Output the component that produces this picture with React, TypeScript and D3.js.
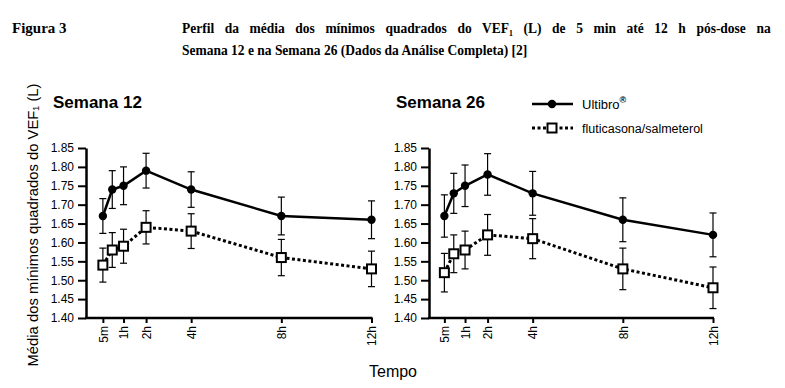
import React, { useEffect, useRef } from 'react';
import * as d3 from 'd3';

// times in hours
const times = [5 / 60, 0.5, 1, 2, 4, 8, 12];
const tickHours = [5 / 60, 1, 2, 4, 8, 12];
const tickLabels = ['5m', '1h', '2h', '4h', '8h', '12h'];
const yTicks = [1.4, 1.45, 1.5, 1.55, 1.6, 1.65, 1.7, 1.75, 1.8, 1.85];

const w12Ultibro = [1.67, 1.74, 1.75, 1.79, 1.74, 1.67, 1.66];
const w12UltibroErr = [0.046, 0.05, 0.05, 0.046, 0.047, 0.05, 0.05];
const w12Flutic = [1.54, 1.58, 1.59, 1.64, 1.63, 1.56, 1.53];
const w12FluticErr = [0.045, 0.046, 0.045, 0.044, 0.046, 0.048, 0.047];

const w26Ultibro = [1.67, 1.73, 1.75, 1.78, 1.73, 1.66, 1.62];
const w26UltibroErr = [0.056, 0.053, 0.055, 0.055, 0.058, 0.058, 0.058];
const w26Flutic = [1.52, 1.57, 1.58, 1.62, 1.61, 1.53, 1.48];
const w26FluticErr = [0.051, 0.05, 0.05, 0.054, 0.053, 0.055, 0.055];

const panels = [
  { title: 'Semana 12', ultibro: w12Ultibro, ultibroErr: w12UltibroErr, flutic: w12Flutic, fluticErr: w12FluticErr, axisX: 86, x0: 101 },
  { title: 'Semana 26', ultibro: w26Ultibro, ultibroErr: w26UltibroErr, flutic: w26Flutic, fluticErr: w26FluticErr, axisX: 429, x0: 442.5 },
];

export default function App() {
  const svgRef = useRef<SVGSVGElement>(null);

  useEffect(() => {
    if (!svgRef.current) return;
    const svg = d3.select(svgRef.current);
    svg.selectAll('*').remove();

    const sans = 'Arial, "Liberation Sans", sans-serif';
    const serif = '"Times New Roman", "Liberation Serif", serif';

    // Header
    svg.append('text').attr('x', 12).attr('y', 33)
      .attr('font-family', serif).attr('font-weight', 'bold').attr('font-size', 15)
      .text('Figura 3');
    // narrower face in the original, first line justified
    const head = svg.append('g').attr('transform', 'translate(182,0) scale(0.9,1)');
    head.append('text').attr('x', 0).attr('y', 33)
      .attr('font-family', serif).attr('font-weight', 'bold').attr('font-size', 15)
      .attr('word-spacing', 8)
      .text('Perfil da média dos mínimos quadrados do VEF\u2081 (L) de 5 min até 12 h pós-dose na');
    head.append('text').attr('x', 0).attr('y', 55)
      .attr('font-family', serif).attr('font-weight', 'bold').attr('font-size', 15)
      .text('Semana 12 e na Semana 26 (Dados da Análise Completa) [2]');

    const y = d3.scaleLinear().domain([1.4, 1.85]).range([318, 148]);

    panels.forEach(p => {
      const x = d3.scaleLinear().domain([0, 12]).range([p.x0, p.x0 + 270.5]);
      const g = svg.append('g');

      g.append('text').attr('x', p.axisX - 33).attr('y', 108)
        .attr('font-family', sans).attr('font-weight', 'bold').attr('font-size', 17)
        .text(p.title);

      // y axis
      const yAxis = g.append('g')
        .attr('transform', `translate(${p.axisX},0)`)
        .call(d3.axisLeft(y).tickValues(yTicks).tickFormat(d3.format('.2f')).tickSize(8).tickSizeOuter(0).tickPadding(4));
      yAxis.select('.domain').attr('stroke-width', 2.5);
      yAxis.selectAll('.tick line').attr('stroke-width', 2);
      yAxis.selectAll('text').attr('font-family', sans).attr('font-size', 12).attr('fill', '#000');

      // x axis
      const xAxis = g.append('g')
        .attr('transform', `translate(0,${y(1.4)})`)
        .call(d3.axisBottom(x).tickValues(tickHours).tickFormat((d, i) => tickLabels[i]).tickSize(5).tickSizeOuter(0));
      xAxis.select('.domain').remove();
      xAxis.append('line')
        .attr('x1', p.axisX - 1).attr('x2', x(12) + 1)
        .attr('stroke', '#000').attr('stroke-width', 2.5);
      xAxis.selectAll('.tick line').attr('stroke-width', 2);
      xAxis.selectAll('text')
        .attr('transform', 'rotate(-90)')
        .attr('x', -8).attr('y', 0).attr('dy', '0.35em')
        .style('text-anchor', 'end')
        .attr('font-family', sans).attr('font-size', 12).attr('fill', '#000');

      const series = [
        { vals: p.ultibro, errs: p.ultibroErr, dashed: false },
        { vals: p.flutic, errs: p.fluticErr, dashed: true },
      ];

      series.forEach(s => {
        const pts = times.map((t, i) => ({ t, v: s.vals[i], e: s.errs[i] }));
        // error bars
        const eb = g.append('g');
        pts.forEach(d => {
          const cx = x(d.t);
          eb.append('line').attr('x1', cx).attr('x2', cx)
            .attr('y1', y(d.v + d.e)).attr('y2', y(d.v - d.e))
            .attr('stroke', '#000').attr('stroke-width', 1.2);
          [d.v + d.e, d.v - d.e].forEach(v => {
            eb.append('line').attr('x1', cx - 3.5).attr('x2', cx + 3.5)
              .attr('y1', y(v)).attr('y2', y(v))
              .attr('stroke', '#000').attr('stroke-width', 1.2);
          });
        });
        const line = d3.line<{ t: number; v: number }>().x(d => x(d.t)).y(d => y(d.v));
        g.append('path').datum(pts).attr('d', line)
          .attr('fill', 'none').attr('stroke', '#000')
          .attr('stroke-width', s.dashed ? 3 : 2.5)
          .attr('stroke-dasharray', s.dashed ? '3,2.5' : null);
        if (s.dashed) {
          g.selectAll(null).data(pts).enter().append('rect')
            .attr('x', d => x(d.t) - 4.5).attr('y', d => y(d.v) - 4.5)
            .attr('width', 9).attr('height', 9)
            .attr('fill', '#fff').attr('stroke', '#000').attr('stroke-width', 2);
        } else {
          g.selectAll(null).data(pts).enter().append('circle')
            .attr('cx', d => x(d.t)).attr('cy', d => y(d.v)).attr('r', 4.2)
            .attr('fill', '#000');
        }
      });
    });

    // legend
    const lg = svg.append('g');
    lg.append('line').attr('x1', 532).attr('x2', 573).attr('y1', 104).attr('y2', 104)
      .attr('stroke', '#000').attr('stroke-width', 2.5);
    lg.append('circle').attr('cx', 552).attr('cy', 104).attr('r', 4.2).attr('fill', '#000');
    const ut = lg.append('text').attr('x', 582).attr('y', 109)
      .attr('font-family', sans).attr('font-size', 13);
    ut.append('tspan').text('Ultibro');
    ut.append('tspan').attr('dy', -6).attr('font-size', 9).attr('font-weight', 'bold').text('®');
    lg.append('line').attr('x1', 532).attr('x2', 573).attr('y1', 128).attr('y2', 128)
      .attr('stroke', '#000').attr('stroke-width', 3).attr('stroke-dasharray', '3,2.5');
    lg.append('rect').attr('x', 547.5).attr('y', 123.5).attr('width', 9).attr('height', 9)
      .attr('fill', '#fff').attr('stroke', '#000').attr('stroke-width', 2);
    lg.append('text').attr('x', 582).attr('y', 132.5)
      .attr('font-family', sans).attr('font-size', 12.5)
      .text('fluticasona/salmeterol');

    // axis titles
    svg.append('text')
      .attr('transform', 'translate(38,225) rotate(-90)')
      .attr('text-anchor', 'middle')
      .attr('font-family', sans).attr('font-size', 14.8)
      .text('Média dos mínimos quadrados do VEF\u2081 (L)');
    svg.append('text').attr('x', 393).attr('y', 377)
      .attr('text-anchor', 'middle')
      .attr('font-family', sans).attr('font-size', 16)
      .text('Tempo');
  }, []);

  return (
    <svg ref={svgRef} width={785} height={388}
      style={{ position: 'absolute', left: 0, top: 0, background: '#fff' }} />
  );
}
